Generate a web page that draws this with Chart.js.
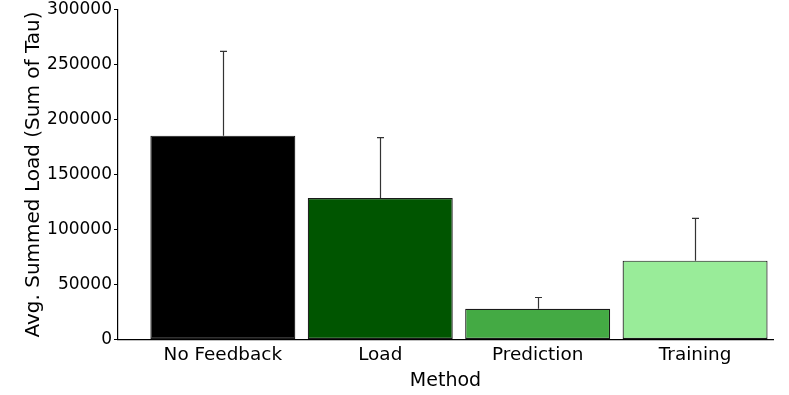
<!DOCTYPE html>
<html>
<head>
<meta charset="utf-8">
<script src="https://cdn.jsdelivr.net/npm/chart.js@4"></script>
<style>
  html, body { margin: 0; padding: 0; background: #fff; }
  #wrap { width: 789px; height: 395px; position: relative; }
</style>
</head>
<body>
<div id="wrap"><canvas id="loadChart"></canvas></div>
<script>
// Data
const methods = ['No Feedback', 'Load', 'Prediction', 'Training'];
const avgLoad = [185300, 128700, 27900, 71700];
const loadErr = [76700, 54800, 10300, 38500];
const barColors = ['#000000', '#005500', '#44aa44', '#99ec99'];
const yTicks = [0, 50000, 100000, 150000, 200000, 250000, 300000];

const FONT = "'DejaVu Sans', sans-serif";

// upper error bars, drawn through the chart's own scales
const errorBars = {
    id: 'errorBars',
    afterDatasetsDraw(chart) {
        const meta = chart.getDatasetMeta(0);
        const y = chart.scales.y;
        const c = chart.ctx;
        c.save();
        c.strokeStyle = '#333';
        c.lineWidth = 1.2;
        meta.data.forEach(function(bar, i) {
            const top = y.getPixelForValue(avgLoad[i] + loadErr[i]);
            const x = Math.round(bar.x) + 0.5;
            c.beginPath();
            c.moveTo(x, bar.y);
            c.lineTo(x, top);
            c.moveTo(x - 3.5, top);
            c.lineTo(x + 3.5, top);
            c.stroke();
        });
        c.restore();
    }
};

const ctx = document.getElementById('loadChart');
new Chart(ctx.getContext('2d'), {
    type: 'bar',
    data: {
        datasets: [{
            data: avgLoad.map(function(v, i) { return { x: i, y: v }; }),
            backgroundColor: barColors,
            borderColor: '#1a1a1a',
            borderWidth: 1.2,
            borderSkipped: false,
            barPercentage: 0.921,
            categoryPercentage: 1,
        }]
    },
    plugins: [errorBars],
    options: {
        responsive: true,
        maintainAspectRatio: false,
        animation: false,
        layout: { padding: { left: 0, right: 16, top: 9.5, bottom: 0 } },
        plugins: {
            legend: { display: false },
            tooltip: { enabled: false }
        },
        scales: {
            x: {
                type: 'linear',
                offset: false,
                min: -0.666,
                max: 3.495,
                afterBuildTicks: function(scale) {
                    scale.ticks = methods.map(function(m, i) { return { value: i }; });
                },
                afterFit: function(scale) {
                    scale.height = 55.5;
                    scale.paddingLeft = 0;
                    scale.paddingRight = 0;
                },
                ticks: {
                    color: '#000',
                    font: { family: FONT, size: 18.4 },
                    padding: 5,
                    maxRotation: 0,
                    autoSkip: false,
                    callback: function(v) { return methods[v]; }
                },
                grid: {
                    display: true,
                    drawOnChartArea: false,
                    drawTicks: false,
                    color: '#000'
                },
                border: { display: true, color: '#000', width: 1.2 },
                title: {
                    display: true,
                    text: 'Method',
                    color: '#000',
                    font: { family: FONT, size: 19 },
                    padding: { top: 0, bottom: 2.6 }
                }
            },
            y: {
                min: 0,
                max: 300000,
                afterBuildTicks: function(scale) {
                    scale.ticks = yTicks.map(function(v) { return { value: v }; });
                },
                afterFit: function(scale) {
                    scale.width = 118;
                    scale.paddingTop = 0;
                    scale.paddingBottom = 0;
                },
                ticks: {
                    color: '#000',
                    font: { family: FONT, size: 17 },
                    padding: 2,
                    callback: function(v) { return String(v); }
                },
                grid: {
                    drawOnChartArea: false,
                    drawTicks: true,
                    tickLength: 4,
                    color: '#000'
                },
                border: { display: true, color: '#000', width: 1.2 },
                title: {
                    display: true,
                    text: 'Avg. Summed Load (Sum of Tau)',
                    color: '#000',
                    font: { family: FONT, size: 20 },
                    padding: { top: 22, bottom: 0 }
                }
            }
        }
    }
});
</script>
</body>
</html>
